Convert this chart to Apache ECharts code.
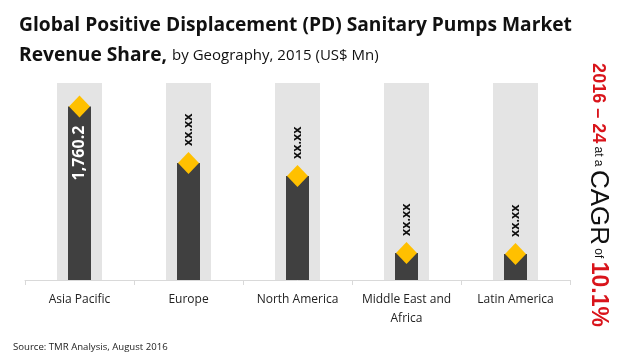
<!DOCTYPE html>
<html><head><meta charset="utf-8">
<script src="https://cdn.jsdelivr.net/npm/echarts@6/dist/echarts.min.js"></script>
<style>html,body{margin:0;padding:0;background:#fff}#c{width:620px;height:360px}</style>
</head><body><div id="c"></div>
<script>
var categories = ['Asia Pacific', 'Europe', 'North America', 'Middle East and\nAfrica', 'Latin America'];
var values = [1760.2, 1188, 1056, 274, 264];
var valueLabels = ['1,760.2', 'xx.xx', 'xx.xx', 'xx.xx', 'xx.xx'];
var backgroundMax = [2000, 2000, 2000, 2000, 2000];

var chart = echarts.init(document.getElementById('c'));
var font = '"Open Sans", "Noto Sans", sans-serif';
chart.setOption({
  animation: false,
  grid: { left: 25, right: 50, top: 83, bottom: 80 },
  title: [{
    left: 14, top: 6,
    text: '{b|Global Positive Displacement (PD) Sanitary Pumps Market}\n{b|Revenue Share,} {n|by Geography, 2015 (US$ Mn)}',
    textStyle: {
      rich: {
        b: { fontFamily: font, fontWeight: 'bold', fontSize: 19.2, color: '#111', lineHeight: 30 },
        n: { fontFamily: font, fontWeight: 'normal', fontSize: 15, color: '#111', lineHeight: 30 }
      }
    }
  }, {
    left: 8, top: 337,
    text: 'Source: TMR Analysis, August 2016',
    textStyle: { fontFamily: font, fontSize: 9.6, fontWeight: 'normal', color: '#222' }
  }],
  xAxis: [{
    type: 'category', data: categories,
    axisLine: { lineStyle: { color: '#d9d9d9' } },
    axisTick: { show: true, alignWithLabel: false, lineStyle: { color: '#d9d9d9' } },
    axisLabel: { fontFamily: font, fontSize: 12, color: '#222', margin: 10, lineHeight: 19, interval: 0 }
  }, {
    type: 'category', data: categories, show: false
  }],
  yAxis: { type: 'value', min: 0, max: 2000, show: false, splitLine: { show: false } },
  series: [{
    type: 'bar', xAxisIndex: 1, data: backgroundMax, barWidth: 45,
    itemStyle: { color: '#e4e4e4' }, silent: true, z: 1
  }, {
    type: 'bar', xAxisIndex: 0, data: values, barWidth: 23,
    itemStyle: { color: '#404040' }, z: 2,
    label: {
      show: true, position: 'insideTop', rotate: 90, distance: 19,
      align: 'right', verticalAlign: 'middle',
      formatter: function (p) { return p.dataIndex === 0 ? valueLabels[0] : ''; },
      color: '#fff', fontFamily: font, fontWeight: 'bold', fontSize: 16
    }
  }, {
    type: 'scatter', xAxisIndex: 0, data: values, symbol: 'diamond', symbolSize: [21, 22],
    itemStyle: { color: '#FFC000', opacity: 1 }, z: 3,
    label: {
      show: true, position: 'top', rotate: 90, distance: 6,
      align: 'left', verticalAlign: 'middle',
      formatter: function (p) { return p.dataIndex === 0 ? '' : valueLabels[p.dataIndex]; },
      color: '#111', fontFamily: font, fontWeight: 'bold', fontSize: 12.5
    }
  }],
  graphic: [{
    type: 'text', x: 598, y: 195, rotation: -Math.PI / 2,
    style: {
      text: '{r|2016 – 24} {s|at a} {k|CAGR} {s|of} {r2|10.1%}',
      align: 'center', verticalAlign: 'middle',
      rich: {
        r: { fontFamily: 'Liberation Sans, Arial, sans-serif', fontWeight: 'bold', fontSize: 18, fill: '#d9141b' },
        s: { fontFamily: 'Liberation Sans, Arial, sans-serif', fontSize: 12, fill: '#111' },
        k: { fontFamily: 'Liberation Sans, Arial, sans-serif', fontSize: 26, fill: '#111' },
        r2: { fontFamily: 'Liberation Sans, Arial, sans-serif', fontWeight: 'bold', fontSize: 23, fill: '#d9141b' }
      }
    }
  }]
});
</script></body></html>
